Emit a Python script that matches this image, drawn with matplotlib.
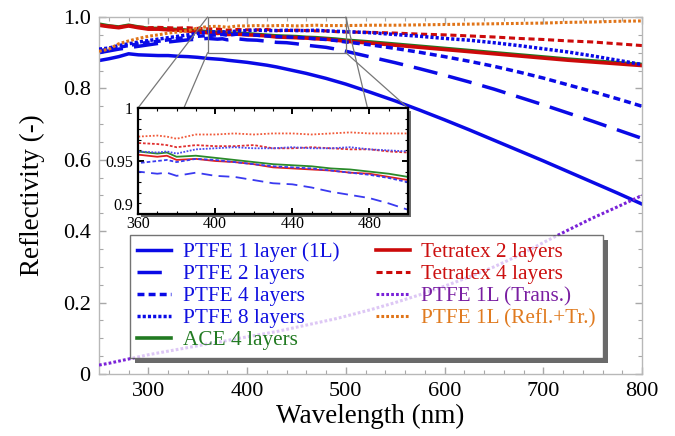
import numpy as np
import matplotlib
matplotlib.use("Agg")
import matplotlib.pyplot as plt
from matplotlib.patches import Rectangle, ConnectionPatch
from matplotlib.ticker import MultipleLocator, FuncFormatter

plt.rcParams['font.family'] = ['Liberation Serif', 'DejaVu Serif']

# ── data ─────────────────────────────────────────────────────────────────────

wl = [250, 260, 270, 280, 290, 300, 310, 320, 330, 340, 350, 360, 370, 375, 380,
      390, 400, 410, 420, 430, 440, 450, 460, 470, 480, 490, 500, 525, 550, 575,
      600, 625, 650, 675, 700, 725, 750, 775, 800]

ptfe_1l = [0.878, 0.883, 0.889, 0.897, 0.894, 0.893, 0.892, 0.892, 0.890, 0.889,
           0.887, 0.884, 0.882, 0.881, 0.879, 0.876, 0.873, 0.869, 0.865, 0.860,
           0.854, 0.848, 0.842, 0.835, 0.828, 0.820, 0.812, 0.789, 0.765, 0.739,
           0.712, 0.684, 0.655, 0.626, 0.597, 0.567, 0.537, 0.507, 0.476]

ptfe_2l = [0.900, 0.905, 0.910, 0.914, 0.918, 0.922, 0.926, 0.930, 0.933, 0.936,
           0.938, 0.940, 0.938, 0.939, 0.936, 0.939, 0.936, 0.935, 0.932, 0.929,
           0.928, 0.925, 0.921, 0.918, 0.915, 0.910, 0.904, 0.888, 0.872, 0.855,
           0.837, 0.818, 0.798, 0.776, 0.754, 0.731, 0.708, 0.684, 0.660]

ptfe_4l = [0.905, 0.910, 0.915, 0.920, 0.925, 0.929, 0.932, 0.936, 0.940, 0.943,
           0.946, 0.948, 0.950, 0.951, 0.949, 0.952, 0.951, 0.949, 0.947, 0.945,
           0.944, 0.943, 0.941, 0.939, 0.937, 0.934, 0.930, 0.922, 0.912, 0.901,
           0.889, 0.876, 0.862, 0.846, 0.829, 0.810, 0.791, 0.771, 0.750]

ptfe_8l = [0.910, 0.913, 0.920, 0.925, 0.930, 0.934, 0.938, 0.942, 0.946, 0.950,
           0.954, 0.959, 0.958, 0.959, 0.957, 0.961, 0.962, 0.963, 0.962, 0.962,
           0.963, 0.962, 0.962, 0.963, 0.961, 0.960, 0.959, 0.956, 0.951, 0.946,
           0.940, 0.935, 0.928, 0.920, 0.911, 0.902, 0.891, 0.879, 0.867]

ace_4l = [0.980, 0.975, 0.972, 0.977, 0.972, 0.968, 0.968, 0.966, 0.965, 0.963,
          0.961, 0.959, 0.957, 0.958, 0.954, 0.955, 0.953, 0.951, 0.949, 0.947,
          0.946, 0.945, 0.943, 0.942, 0.940, 0.938, 0.935, 0.930, 0.924, 0.918,
          0.912, 0.906, 0.900, 0.894, 0.888, 0.882, 0.877, 0.872, 0.867]

tetratex_2l = [0.977, 0.973, 0.970, 0.975, 0.970, 0.966, 0.966, 0.964, 0.963, 0.961,
               0.958, 0.956, 0.954, 0.955, 0.951, 0.952, 0.950, 0.949, 0.947, 0.944,
               0.943, 0.942, 0.941, 0.939, 0.938, 0.935, 0.932, 0.927, 0.921, 0.915,
               0.909, 0.903, 0.897, 0.891, 0.885, 0.879, 0.874, 0.869, 0.864]

tetratex_4l = [0.977, 0.975, 0.972, 0.976, 0.972, 0.970, 0.971, 0.970, 0.969, 0.970,
               0.968, 0.967, 0.966, 0.965, 0.963, 0.965, 0.964, 0.964, 0.965, 0.962,
               0.962, 0.963, 0.962, 0.961, 0.961, 0.959, 0.958, 0.957, 0.955, 0.952,
               0.950, 0.947, 0.944, 0.940, 0.937, 0.933, 0.930, 0.925, 0.920]

ptfe_1l_trans = [0.025, 0.030, 0.036, 0.042, 0.048, 0.054, 0.059, 0.064, 0.069, 0.074,
                 0.079, 0.084, 0.089, 0.091, 0.094, 0.099, 0.104, 0.109, 0.114, 0.119,
                 0.125, 0.131, 0.137, 0.143, 0.149, 0.155, 0.162, 0.180, 0.200, 0.222,
                 0.246, 0.272, 0.300, 0.332, 0.368, 0.403, 0.437, 0.468, 0.500]

ptfe_1l_sum = [0.904, 0.910, 0.925, 0.933, 0.940, 0.946, 0.950, 0.955, 0.958, 0.962,
               0.969, 0.973, 0.974, 0.973, 0.971, 0.975, 0.975, 0.976, 0.975, 0.976,
               0.976, 0.975, 0.976, 0.977, 0.976, 0.976, 0.976, 0.977, 0.977, 0.978,
               0.979, 0.980, 0.981, 0.982, 0.983, 0.985, 0.986, 0.988, 0.989]

labels = ["PTFE 1 layer (1L)", "PTFE 2 layers", "PTFE 4 layers", "PTFE 8 layers",
          "ACE 4 layers", "Tetratex 2 layers", "Tetratex 4 layers",
          "PTFE 1L (Trans.)", "PTFE 1L (Refl.+Tr.)"]

# ── style per curve ──────────────────────────────────────────────────────────

BLUE, GREEN, RED = "#0a0ae6", "#217a21", "#cc0a0a"
PURPLE, ORANGE = "#7a22d8", "#e07418"

curves = [
    # data,          color,  dashes,     lw,  text colour
    (ptfe_1l,       BLUE,   None,       2.5, "#1010e0"),
    (ptfe_2l,       BLUE,   (7, 3.2),   2.5, "#1010e0"),
    (ptfe_4l,       BLUE,   (2.0, 1.2), 2.5, "#1010e0"),
    (ptfe_8l,       BLUE,   (0.9, 0.6), 2.5, "#1010e0"),
    (ace_4l,        GREEN,  None,       2.6, "#217a21"),
    (tetratex_2l,   RED,    None,       2.6, "#cc1010"),
    (tetratex_4l,   RED,    (2.0, 1.2), 2.2, "#cc1010"),
    (ptfe_1l_trans, PURPLE, (0.9, 0.7), 2.2, "#7a1fa2"),
    (ptfe_1l_sum,   ORANGE, (0.9, 0.7), 2.2, "#e07b20"),
]
draw_order = [4, 5, 6, 0, 1, 2, 3, 8, 7]

inset_colors = ["#3a3af0", "#3a3af0", "#3a3af0", "#4a4af0", "#2a8a2a",
                "#e02020", "#e03030", PURPLE, "#f05a3a"]
inset_dashes = [None, (6, 3.5), (2, 1.2), (1, 0.8), None, None, (1.5, 1),
                (1, 0.8), (1, 1)]

# ── figure ───────────────────────────────────────────────────────────────────

W, H = 675, 436
fig = plt.figure(figsize=(W / 100, H / 100), dpi=100)
fig.patch.set_facecolor("white")

def fig_box(x0, y0, x1, y1):
    """pixel box (top-left origin) -> [left, bottom, width, height]"""
    return [x0 / W, 1 - y1 / H, (x1 - x0) / W, (y1 - y0) / H]

ax = fig.add_axes(fig_box(99, 17, 642, 374), zorder=0)

handles = [None] * len(curves)
for i in draw_order:
    data, color, dashes, lw, _ = curves[i]
    ln, = ax.plot(wl, data, color=color, lw=lw, zorder=2 + draw_order.index(i) * 0.1)
    if dashes is not None:
        ln.set_dashes(dashes)
    handles[i] = ln

ax.set_xlim(250, 800)
ax.set_ylim(0, 1.0)
ax.xaxis.set_major_locator(MultipleLocator(100))
ax.xaxis.set_minor_locator(MultipleLocator(20))
ax.yaxis.set_major_locator(MultipleLocator(0.2))
ax.yaxis.set_minor_locator(MultipleLocator(0.05))
ax.yaxis.set_major_formatter(FuncFormatter(lambda v, _: "0" if abs(v) < 1e-9 else f"{v:.1f}"))
for s in ax.spines.values():
    s.set_color("#b8b8b8")
    s.set_linewidth(1.0)
ax.tick_params(which="both", direction="in", top=True, right=True, color="#a8a8a8",
               labelsize=16, pad=6)
ax.tick_params(which="major", length=5, width=1)
ax.tick_params(which="minor", length=3, width=0.8)
ax.set_xlabel("Wavelength (nm)", fontsize=19.5, labelpad=2)
ax.set_ylabel("Reflectivity (-)", fontsize=19.5, labelpad=13)

# zoom rectangle
ax.add_patch(Rectangle((360, 0.9), 140, 0.1, fill=False, edgecolor="#777777",
                       lw=0.9, zorder=6))

# ── legend ───────────────────────────────────────────────────────────────────

leg = ax.legend(handles, labels, ncol=2, loc="upper left",
                bbox_to_anchor=(130 / W, 1 - 235 / H), bbox_transform=fig.transFigure,
                borderaxespad=0, fontsize=15.3, handlelength=1.6, handletextpad=0.55,
                columnspacing=1.7, labelspacing=0.1, borderpad=0.35,
                frameon=True, fancybox=False, framealpha=0.75,
                labelcolor=[c[4] for c in curves])
leg.get_frame().set_edgecolor("#444444")
leg.get_frame().set_linewidth(1.0)
leg.set_zorder(10)

# ── inset ────────────────────────────────────────────────────────────────────

axin = fig.add_axes(fig_box(138, 108, 408, 214), zorder=2)
for i in draw_order:
    data = curves[i][0]
    ln, = axin.plot(wl, data, color=inset_colors[i], lw=1.3)
    if inset_dashes[i] is not None:
        ln.set_dashes(inset_dashes[i])
axin.set_xlim(360, 500)
axin.set_ylim(0.9, 1.0)
axin.set_xticks([360, 400, 440, 480])
axin.xaxis.set_minor_locator(MultipleLocator(10))
axin.set_yticks([0.9, 0.95, 1.0])
axin.set_yticklabels(["0.9", "0.95", "1"])
axin.yaxis.set_minor_locator(MultipleLocator(0.01))
for s in axin.spines.values():
    s.set_color("black")
    s.set_linewidth(1.6)
axin.tick_params(which="both", direction="in", top=True, right=True, color="black",
                 labelsize=11.5)
axin.tick_params(axis="x", pad=1.5)
axin.tick_params(axis="y", pad=3.5)
axin.tick_params(which="major", length=4, width=1.4)
axin.tick_params(which="minor", length=2.5, width=0.8)
# nudge the corner labels apart so "0.9" and "360" don't collide
axin.get_yticklabels()[0].set_va("bottom")

# connector lines from zoom box to inset
for (xa, ya), xb in [((360, 1.0), 0.0), ((360, 0.9), 0.17),
                     ((500, 1.0), 0.85), ((500, 0.9), 1.0)]:
    con = ConnectionPatch(xyA=(xa, ya), coordsA="data", axesA=ax,
                          xyB=(xb, 1.0), coordsB="axes fraction", axesB=axin,
                          color="#777777", lw=0.9)
    fig.add_artist(con)

# ── shadows (drawn as L-shapes so the legend stays see-through) ─────────────

def add_shadow(bb, d=4, color="#6a6a6a"):
    inv = fig.transFigure.inverted()
    for (x0, y0, x1, y1) in [(bb.x1, bb.y0 - d, bb.x1 + d, bb.y1 - d),
                             (bb.x0 + d, bb.y0 - d, bb.x1, bb.y0)]:
        (fx0, fy0), (fx1, fy1) = inv.transform([(x0, y0), (x1, y1)])
        fig.add_artist(Rectangle((fx0, fy0), fx1 - fx0, fy1 - fy0,
                                 transform=fig.transFigure, facecolor=color,
                                 edgecolor="none", zorder=1))

fig.canvas.draw()
add_shadow(leg.get_frame().get_window_extent(), d=5)
add_shadow(axin.get_window_extent(), d=3)

fig.savefig("out.png", dpi=100, facecolor="white")
